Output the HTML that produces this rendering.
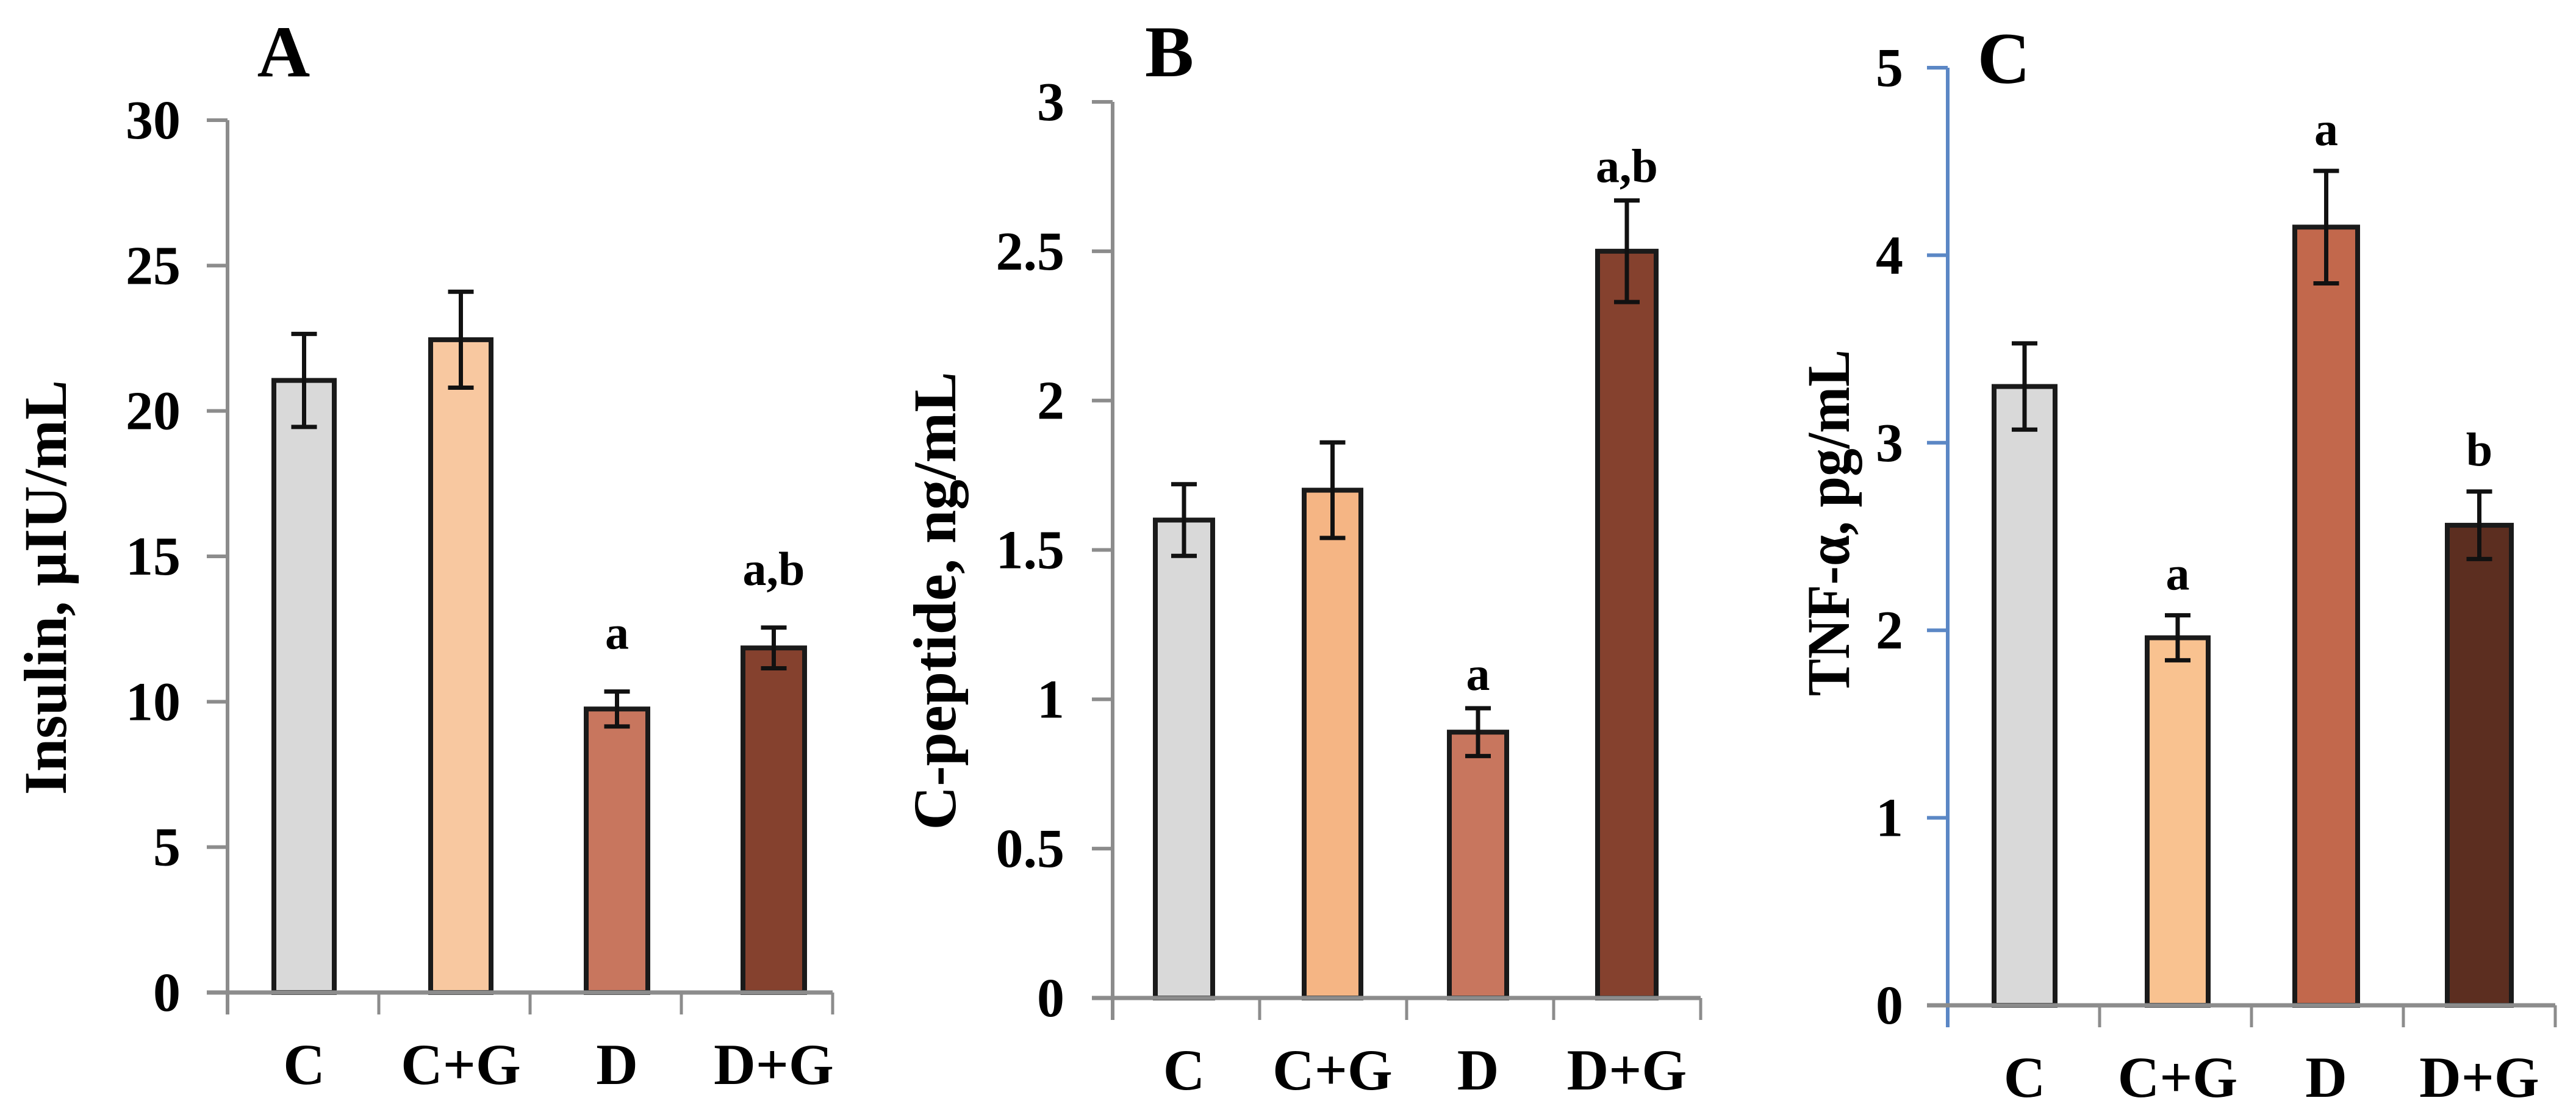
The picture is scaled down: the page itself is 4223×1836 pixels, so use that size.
<!DOCTYPE html>
<html><head><meta charset="utf-8"><style>
html,body{margin:0;padding:0;background:#fff;}
svg{display:block;}
text{font-family:"Liberation Serif","DejaVu Serif",serif;font-weight:bold;fill:#000;}
</style></head><body>
<svg id="chart" width="4223" height="1836" viewBox="0 0 4223 1836" xmlns="http://www.w3.org/2000/svg"></svg>
<script>
const categories = ["C","C+G","D","D+G"];
const insulinValues = [21.05, 22.45, 9.75, 11.85];
const insulinErrors = [1.6, 1.65, 0.6, 0.7];
const insulinLetters = ["", "", "a", "a,b"];
const insulinTicks = [0,5,10,15,20,25,30];
const cpepValues = [1.6, 1.7, 0.89, 2.5];
const cpepErrors = [0.12, 0.16, 0.08, 0.17];
const cpepLetters = ["", "", "a", "a,b"];
const cpepTicks = [0,0.5,1,1.5,2,2.5,3];
const tnfValues = [3.3, 1.96, 4.15, 2.56];
const tnfErrors = [0.23, 0.12, 0.3, 0.18];
const tnfLetters = ["", "a", "a", "b"];
const tnfTicks = [0,1,2,3,4,5];

const NS = "http://www.w3.org/2000/svg";
const svg = document.getElementById('chart');
function mk(tag, attrs, parent){
  const e = document.createElementNS(NS, tag);
  for (const k in attrs) e.setAttribute(k, attrs[k]);
  (parent||svg).appendChild(e);
  return e;
}

const panels = [
  {id:'insulin', title:'A', titleX:465, titleY:125, ax:373, right:1365, y0:1627, yTop:197, max:30,
   values:insulinValues, errors:insulinErrors, letters:insulinLetters, ticks:insulinTicks,
   bars:[[449,548],[706,805],[961,1062],[1218,1319]], gap:70,
   colors:['#d9d9d9','#f8c8a0','#c8765e','#85412e'], axisColor:'#8c8c8c',
   ytitle:'Insulin, µIU/mL', ytX:108, ytY:963, ytLen:680, labelX:296},
  {id:'cpeptide', title:'B', titleX:1917, titleY:125, ax:1824, right:2788, y0:1636, yTop:167, max:3,
   values:cpepValues, errors:cpepErrors, letters:cpepLetters, ticks:cpepTicks,
   bars:[[1894,1988],[2138,2231],[2376,2470],[2619,2715]], gap:30,
   colors:['#d9d9d9','#f5b584','#c8765e','#85412e'], axisColor:'#8c8c8c',
   ytitle:'C-peptide, ng/mL', ytX:1566, ytY:985, ytLen:751, labelX:1745},
  {id:'tnf', title:'C', titleX:3285, titleY:136, ax:3193, right:4189, y0:1648, yTop:111, max:5,
   values:tnfValues, errors:tnfErrors, letters:tnfLetters, ticks:tnfTicks,
   bars:[[3269,3369],[3520,3620],[3762,3865],[4012,4117]], gap:42,
   colors:['#d9d9d9','#f9c290','#c2684c','#5c2e20'], axisColor:'#5b87c5',
   ytitle:'TNF-α, pg/mL', ytX:3031, ytY:857, ytLen:568, labelX:3120}
];

panels.forEach(p => {
  const g = mk('g', {});
  
  
  const y = v => p.y0 - (v / p.max) * (p.y0 - p.yTop);
  const n = categories.length;
  const step = (p.right - p.ax) / n;

  const t = mk('text', {x:p.titleX, y:p.titleY, 'font-size':120, 'text-anchor':'middle'}, g);
  t.textContent = p.title;
  
  

  const yt = mk('text', {x:0, y:0, 'font-size':100, 'text-anchor':'middle', textLength:p.ytLen, lengthAdjust:'spacingAndGlyphs', transform:`translate(${p.ytX},${p.ytY}) rotate(-90)`}, g);
  yt.textContent = p.ytitle;
  
  

  const yaxis = mk('line', {x1:p.ax, y1:p.yTop, x2:p.ax, y2:p.y0 + 36, stroke:p.axisColor, 'stroke-width':6}, g);
  
  
  p.ticks.forEach(v => {
    const tk = mk('line', {x1:p.ax - 34, y1:y(v), x2:p.ax, y2:y(v), stroke:p.axisColor, 'stroke-width':6}, g);
    
    
    const tl = mk('text', {x:p.labelX, y:y(v) + 30, 'font-size':90, 'text-anchor':'end'}, g);
    tl.textContent = String(v);
    
    
  });

  categories.forEach((c, i) => {
    const [x1, x2] = p.bars[i];
    const top = y(p.values[i]);
    const b = mk('rect', {x:x1, y:top, width:x2 - x1, height:p.y0 - top, fill:p.colors[i], stroke:'#1a1a1a', 'stroke-width':8}, g);
    
    
    const cx = (x1 + x2) / 2;
    const hi = y(p.values[i] + p.errors[i]), lo = y(p.values[i] - p.errors[i]);
    const eg = mk('g', {stroke:'#111', 'stroke-width':7}, g);
    
    
    mk('line', {x1:cx, y1:hi, x2:cx, y2:lo}, eg);
    mk('line', {x1:cx - 21, y1:hi, x2:cx + 21, y2:hi}, eg);
    mk('line', {x1:cx - 21, y1:lo, x2:cx + 21, y2:lo}, eg);
    if (p.letters[i]) {
      const lt = mk('text', {x:cx, y:hi - p.gap, 'font-size':78, 'text-anchor':'middle'}, g);
      lt.textContent = p.letters[i];
      
      
    }
    const cl = mk('text', {x:cx, y:p.y0 + 150, 'font-size':95, 'text-anchor':'middle'}, g);
    cl.textContent = c;
    
    
  });

  const xaxis = mk('line', {x1:p.ax - 34, y1:p.y0, x2:p.right, y2:p.y0, stroke:'#8c8c8c', 'stroke-width':7}, g);
  
  
  for (let i = 1; i <= n; i++) {
    const xx = p.ax + step * i;
    const tk = mk('line', {x1:xx, y1:p.y0, x2:xx, y2:p.y0 + 36, stroke:'#8c8c8c', 'stroke-width':5}, g);
    
    
  }
});
</script>
</body></html>
